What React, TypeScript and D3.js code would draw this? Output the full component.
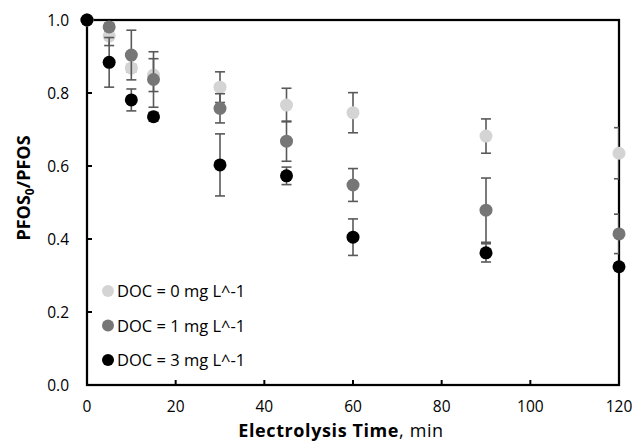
import React, { useEffect, useRef } from "react";
import * as d3 from "d3";

// electrolysis time, min
const times = [0, 5, 10, 15, 30, 45, 60, 90, 120];

// PFOS0/PFOS for each DOC level
const doc0 = [1.0, 0.956, 0.868, 0.849, 0.816, 0.767, 0.746, 0.682, 0.635];
const doc1 = [1.0, 0.981, 0.904, 0.837, 0.758, 0.668, 0.548, 0.479, 0.414];
const doc3 = [1.0, 0.884, 0.781, 0.735, 0.603, 0.573, 0.405, 0.362, 0.324];

// error bar half-widths
const err0 = [0, 0.026, 0.01, 0.045, 0.042, 0.046, 0.055, 0.047, 0.07];
const err1 = [0, 0.01, 0.068, 0.076, 0.04, 0.055, 0.045, 0.088, 0.054];
const err3 = [0, 0.068, 0.03, 0.012, 0.085, 0.024, 0.05, 0.025, 0.01];

const seriesNames = ["DOC = 0 mg L^-1", "DOC = 1 mg L^-1", "DOC = 3 mg L^-1"];
const seriesColors = ["#d4d4d4", "#767676", "#000000"];

const xTicks = [0, 20, 40, 60, 80, 100, 120];
const yTicks = [0, 0.2, 0.4, 0.6, 0.8, 1.0];

const W = 635;
const H = 442;
const font = "'Open Sans', sans-serif";

export default function App() {
  const ref = useRef<SVGSVGElement>(null);

  useEffect(() => {
    const svg = d3.select(ref.current);
    svg.selectAll("*").remove();

    const left = 87, right = 619, top = 20, bottom = 385;
    const x = d3.scaleLinear().domain([0, 120]).range([left, right]);
    const y = d3.scaleLinear().domain([0, 1]).range([bottom, top]);

    svg.append("defs").append("clipPath").attr("id", "plotclip")
      .append("rect")
      .attr("x", left).attr("y", 0)
      .attr("width", right - left).attr("height", H);

    // ticks inside the frame
    const tickG = svg.append("g");
    tickG.selectAll("line.xt")
      .data(xTicks.slice(1, -1))
      .enter().append("line")
      .attr("x1", d => x(d)).attr("x2", d => x(d))
      .attr("y1", bottom).attr("y2", bottom - 5)
      .attr("stroke", "#000").attr("stroke-width", 2);
    tickG.selectAll("line.yt")
      .data(yTicks.slice(1, -1))
      .enter().append("line")
      .attr("x1", left).attr("x2", left + 5)
      .attr("y1", d => y(d)).attr("y2", d => y(d))
      .attr("stroke", "#000").attr("stroke-width", 2);

    svg.append("rect")
      .attr("x", left).attr("y", top)
      .attr("width", right - left).attr("height", bottom - top)
      .attr("fill", "none").attr("stroke", "#000").attr("stroke-width", 2.25);

    // tick labels
    svg.selectAll("text.xl")
      .data(xTicks)
      .enter().append("text")
      .attr("x", d => x(d)).attr("y", 412)
      .attr("text-anchor", "middle")
      .attr("font-family", font).attr("font-size", 15.5).attr("fill", "#000")
      .text(d => d);
    svg.selectAll("text.yl")
      .data(yTicks)
      .enter().append("text")
      .attr("x", 69).attr("y", d => y(d) + 5.5)
      .attr("text-anchor", "end")
      .attr("font-family", font).attr("font-size", 15.5).attr("fill", "#000")
      .text(d => d3.format(".1f")(d));

    // axis titles
    const xt = svg.append("text")
      .attr("x", 341).attr("y", 436.5)
      .attr("text-anchor", "middle")
      .attr("font-family", font).attr("font-size", 18)
      .attr("letter-spacing", 0.6).attr("fill", "#000");
    xt.append("tspan").attr("font-weight", "bold").text("Electrolysis Time");
    xt.append("tspan").text(", min");

    const yt = svg.append("text")
      .attr("transform", "translate(30,188) rotate(-90)")
      .attr("text-anchor", "middle")
      .attr("font-family", font).attr("font-size", 18)
      .attr("font-weight", "bold").attr("fill", "#000");
    yt.append("tspan").text("PFOS");
    yt.append("tspan").attr("font-size", 12).attr("dy", 4).text("0");
    yt.append("tspan").attr("dy", -4).text("/PFOS");

    // series
    const vals = [doc0, doc1, doc3];
    const errs = [err0, err1, err3];
    vals.forEach((v, si) => {
      const data = times.map((t, i) => ({ t, v: v[i], e: errs[si][i] }));
      const eg = svg.append("g").attr("clip-path", "url(#plotclip)")
        .attr("stroke", "#595959").attr("stroke-width", 1.6);
      const withErr = data.filter(d => d.e > 0);
      eg.selectAll("line.bar").data(withErr).enter().append("line")
        .attr("x1", d => x(d.t)).attr("x2", d => x(d.t))
        .attr("y1", d => y(d.v + d.e)).attr("y2", d => y(d.v - d.e));
      eg.selectAll("line.cap-hi").data(withErr).enter().append("line")
        .attr("x1", d => x(d.t) - 5).attr("x2", d => x(d.t) + 5)
        .attr("y1", d => y(d.v + d.e)).attr("y2", d => y(d.v + d.e));
      eg.selectAll("line.cap-lo").data(withErr).enter().append("line")
        .attr("x1", d => x(d.t) - 5).attr("x2", d => x(d.t) + 5)
        .attr("y1", d => y(d.v - d.e)).attr("y2", d => y(d.v - d.e));

      svg.append("g").selectAll("circle").data(data).enter().append("circle")
        .attr("cx", d => x(d.t)).attr("cy", d => y(d.v))
        .attr("r", 6.5).attr("fill", seriesColors[si]);
    });

    // legend
    const lg = svg.append("g");
    seriesNames.forEach((name, i) => {
      const ly = 291 + i * 34.5;
      lg.append("circle").attr("cx", 108).attr("cy", ly).attr("r", 6)
        .attr("fill", seriesColors[i]);
      lg.append("text").attr("x", 117).attr("y", ly + 6)
        .attr("font-family", font).attr("font-size", 16.5).attr("fill", "#000")
        .text(name);
    });
  }, []);

  return (
    <svg
      ref={ref}
      width={W}
      height={H}
      style={{ position: "absolute", left: 0, top: 0, background: "#fff" }}
    />
  );
}
